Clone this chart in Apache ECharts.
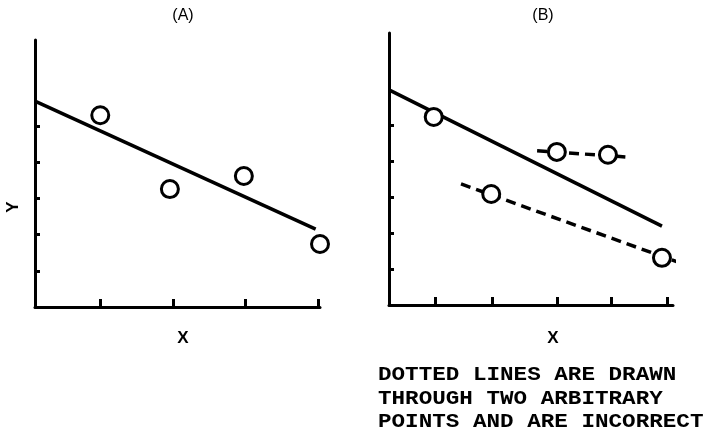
<!DOCTYPE html>
<html>
<head>
<meta charset="utf-8">
<script src="https://cdn.jsdelivr.net/npm/echarts@6/dist/echarts.min.js"></script>
<style>html,body{margin:0;padding:0;background:#fff}#c{width:716px;height:436px}</style>
</head>
<body>
<div id="c"></div>
<script>
// Panel A
const ticksAX = [1, 2, 3, 4];
const ticksAY = [1, 2, 3, 4, 5];
const pointsAX = [1.0, 1.96, 2.98, 4.03];
const pointsAY = [5.30, 3.26, 3.62, 1.74];
const fitAX = [0.1, 3.97];
const fitAY = [5.69, 2.15];

// Panel B
const ticksBX = [1.0, 1.98, 3.10, 4.03, 5.0];
const ticksBY = [1, 2, 3, 4, 5];
const pointsBX = [0.98, 3.10, 3.98, 1.97, 4.91];
const pointsBY = [5.22, 4.25, 4.17, 3.08, 1.31];
const fitBX = [0.21, 4.91];
const fitBY = [5.97, 2.19];
const dash1X = [2.76, 4.28];
const dash1Y = [4.28, 4.11];
const dash2X = [1.45, 5.22];
const dash2Y = [3.36, 1.17];

const titles = ['(A)', '(B)'];
const axisNames = ['X', 'Y'];
const noteLines = ['DOTTED LINES ARE DRAWN', 'THROUGH TWO ARBITRARY', 'POINTS AND ARE INCORRECT'];

const zip = (a, b) => a.map((v, i) => [v, b[i]]);

const axisLine = { show: true, onZero: false, lineStyle: { color: '#000', width: 3 } };
function xAx(grid, min, max, ticks) {
  return { type: 'value', gridIndex: grid, min, max, axisLine,
    axisTick: { show: true, inside: true, length: 8, customValues: ticks, lineStyle: { color: '#000', width: 3 } },
    axisLabel: { show: false }, splitLine: { show: false } };
}
function yAx(grid, min, max, ticks) {
  return { type: 'value', gridIndex: grid, min, max, axisLine,
    axisTick: { show: true, inside: true, length: 5, customValues: ticks, lineStyle: { color: '#000', width: 3 } },
    axisLabel: { show: false }, splitLine: { show: false } };
}
const circle = { type: 'scatter', symbol: 'circle', symbolSize: 17, clip: false, z: 5,
  itemStyle: { color: '#fff', borderColor: '#000', borderWidth: 3, opacity: 1 } };
function line(xi, yi, x, y, type) {
  return { type: 'line', xAxisIndex: xi, yAxisIndex: yi, data: zip(x, y), showSymbol: false, symbol: 'none',
    clip: false, lineStyle: { color: '#000', width: 3.5, type: type }, z: 3 };
}
const txt = (t, x, y, size, weight, rot) => ({ type: 'text', x: x, y: y, rotation: rot || 0,
  style: { text: t, fill: '#000', fontSize: size, fontWeight: weight, fontFamily: 'Liberation Sans, Arial, sans-serif',
    align: 'center', verticalAlign: 'middle' } });

const chart = echarts.init(document.getElementById('c'), null, { renderer: 'canvas' });
chart.setOption({
  animation: false,
  backgroundColor: '#fff',
  grid: [
    { left: 35, top: 40, width: 285, height: 267 },
    { left: 389, top: 33, width: 284, height: 272 }
  ],
  xAxis: [xAx(0, 0.1, 4.03, ticksAX), xAx(1, 0.21, 5.1, ticksBX)],
  yAxis: [yAx(0, 0, 7.38, ticksAY), yAx(1, 0, 7.55, ticksBY)],
  series: [
    line(0, 0, fitAX, fitAY, 'solid'),
    Object.assign({}, circle, { xAxisIndex: 0, yAxisIndex: 0, data: zip(pointsAX, pointsAY) }),
    line(1, 1, fitBX, fitBY, 'solid'),
    line(1, 1, dash1X, dash1Y, [10, 6]),
    line(1, 1, dash2X, dash2Y, [10, 6]),
    Object.assign({}, circle, { xAxisIndex: 1, yAxisIndex: 1, data: zip(pointsBX, pointsBY) })
  ],
  graphic: [
    txt(titles[0], 183, 16, 16, 'normal'),
    txt(titles[1], 543, 16, 16, 'normal'),
    txt(axisNames[0], 183, 338, 17, 'bold'),
    txt(axisNames[0], 553, 338, 17, 'bold'),
    txt(axisNames[1], 13, 207, 17, 'bold', Math.PI / 2),
    { type: 'group', x: 378, y: 375, scaleX: 1.13, children: noteLines.map((t, i) => ({
      type: 'text', x: 0, y: i * 23.5,
      style: { text: t, fill: '#000', fontSize: 20, fontWeight: 'bold', fontFamily: 'Liberation Mono, monospace',
        align: 'left', verticalAlign: 'middle' }
    })) }
  ]
});
</script>
</body>
</html>
